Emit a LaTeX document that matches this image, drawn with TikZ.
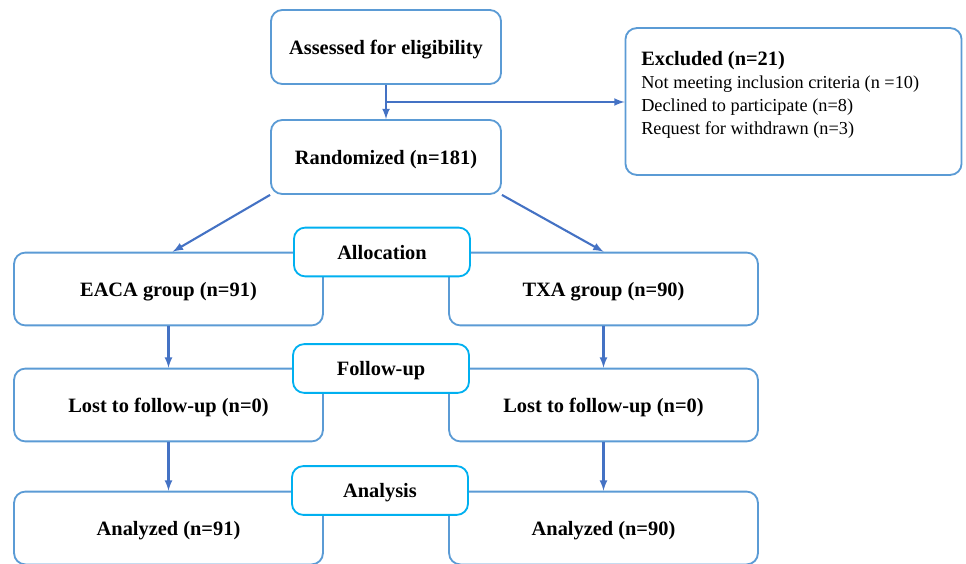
\documentclass[tikz,border=0pt]{standalone}
\usepackage{fontspec}
\setmainfont{Liberation Serif}
\usetikzlibrary{arrows}
\usetikzlibrary{calc}
\definecolor{boxblue}{RGB}{91,155,213}
\definecolor{phasecyan}{RGB}{0,176,240}
\definecolor{arrowblue}{RGB}{68,114,196}
\tikzset{%
	box/.style={draw=boxblue,line width=1.3pt,rounded corners=8pt,fill=white,inner sep=0pt,text depth=0pt,font=\fontsize{14.5}{17}\selectfont\bfseries},
	topbox/.style={box,minimum width=5.75cm,minimum height=1.85cm},
	groupbox/.style={box,minimum width=7.72cm,minimum height=1.82cm},
	phase/.style={box,draw=phasecyan,minimum width=4.4cm,minimum height=1.22cm},
	flow/.style={->,>=latex,draw=arrowblue,line width=1.5pt},
}

\begin{document}
\begin{tikzpicture}[x=0.025cm,y=-0.025cm]
	\useasboundingbox (0,0) rectangle (966,564);
	
	%ENROLMENT
	\node[topbox] (assess) at (386,47) {Assessed for eligibility};
	\node[topbox] (random) at (386,157) {Randomized (n=181)};
	\node[box,minimum width=8.4cm,minimum height=3.67cm] (excl) at (793.5,101.5) {};
	\node[anchor=north west,inner sep=0pt,align=left,font=\fontsize{13}{16.3}\selectfont] (excltext) at (641,51)
		{{\fontsize{14.5}{16.3}\selectfont\bfseries Excluded (n=21)}\\
		Not meeting inclusion criteria (n =10)\\
		Declined to participate (n=8)\\
		Request for withdrawn (n=3)};
	
	%GROUPS
	\node[groupbox] (eaca) at (168.5,289) {EACA group (n=91)};
	\node[groupbox] (txa) at (603.5,289) {TXA group (n=90)};
	\node[groupbox] (lost1) at (168.5,405) {Lost to follow-up (n=0)};
	\node[groupbox] (lost2) at (603.5,405) {Lost to follow-up (n=0)};
	\node[groupbox] (anal1) at (168.5,528) {Analyzed (n=91)};
	\node[groupbox] (anal2) at (603.5,528) {Analyzed (n=90)};
	
	%PHASES
	\node[phase] (alloc) at (382,252) {Allocation};
	\node[phase] (follow) at (381,368.5) {Follow-up};
	\node[phase] (analysis) at (380,490.5) {Analysis};
	
	%ARROWS
	\coordinate (split) at ($(assess.south)!0.5!(random.north)$);
	\draw[flow] (assess) -- (random);
	\draw[flow] (split) -- (split -| excl.west);
	\draw[flow] (random.south west) -- ([xshift=3pt]eaca.north);
	\draw[flow] (random.south east) -- (txa.north);
	\draw[flow] (eaca) -- (lost1);
	\draw[flow] (txa) -- (lost2);
	\draw[flow] (lost1) -- (anal1);
	\draw[flow] (lost2) -- (anal2);
\end{tikzpicture}
\end{document}
